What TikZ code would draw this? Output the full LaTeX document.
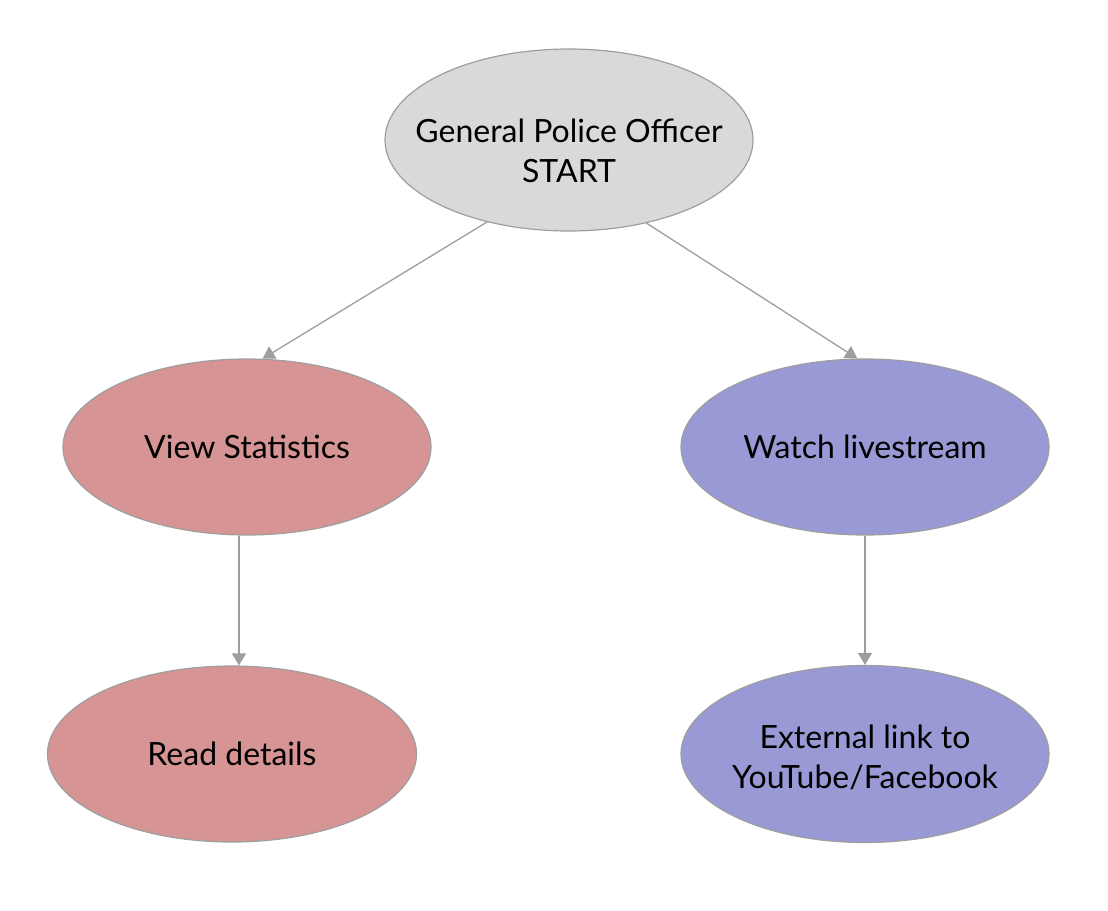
\documentclass[tikz,border=0pt]{standalone}
\usepackage{fontspec}
\setmainfont{Lato}
\usetikzlibrary{shapes.geometric,arrows.meta}
\definecolor{edgegray}{RGB}{158,158,158}
\definecolor{startfill}{RGB}{217,217,217}
\definecolor{redfill}{RGB}{214,148,148}
\definecolor{bluefill}{RGB}{153,153,214}
\tikzset{
  oval/.style={ellipse, draw=edgegray, line width=1.2pt, inner sep=0pt,
    font=\fontsize{32}{40}\selectfont, align=center, text=black},
  conn/.style={draw=edgegray, line width=1.3pt, -{Triangle[width=14pt,length=12pt]}}
}
\begin{document}
\begin{tikzpicture}[x=1pt,y=-1pt]
\useasboundingbox (0,0) rectangle (1108,910);
\node[oval, fill=startfill, minimum width=368pt, minimum height=182pt] (start) at (569,140) {\raisebox{-21pt}[0pt][0pt]{\makebox[0pt]{\begin{tabular}{@{}c@{}}General Police Officer\\START\end{tabular}}}};
\node[oval, fill=redfill, minimum width=368pt, minimum height=176pt] (vs) at (247,447) {\makebox[0pt]{View Statistics}};
\node[oval, fill=bluefill, minimum width=368pt, minimum height=176pt] (wl) at (865,447) {\makebox[0pt]{Watch livestream}};
\node[oval, fill=redfill, minimum width=369pt, minimum height=176pt] (rd) at (232,754) {\makebox[0pt]{Read details}};
\node[oval, fill=bluefill, minimum width=368pt, minimum height=177pt] (ext) at (865,754) {\raisebox{-13pt}[0pt][0pt]{\makebox[0pt]{\begin{tabular}{@{}c@{}}External link to\\YouTube/Facebook\end{tabular}}}};
\draw[conn] (start.225) -- (vs.80);
\draw[conn] (start.313) -- (wl.95);
\draw[conn] ([xshift=-8pt]vs.south) coordinate (a) -- (a |- rd.north);
\draw[conn] (wl.south) -- (ext.north);
\end{tikzpicture}
\end{document}
